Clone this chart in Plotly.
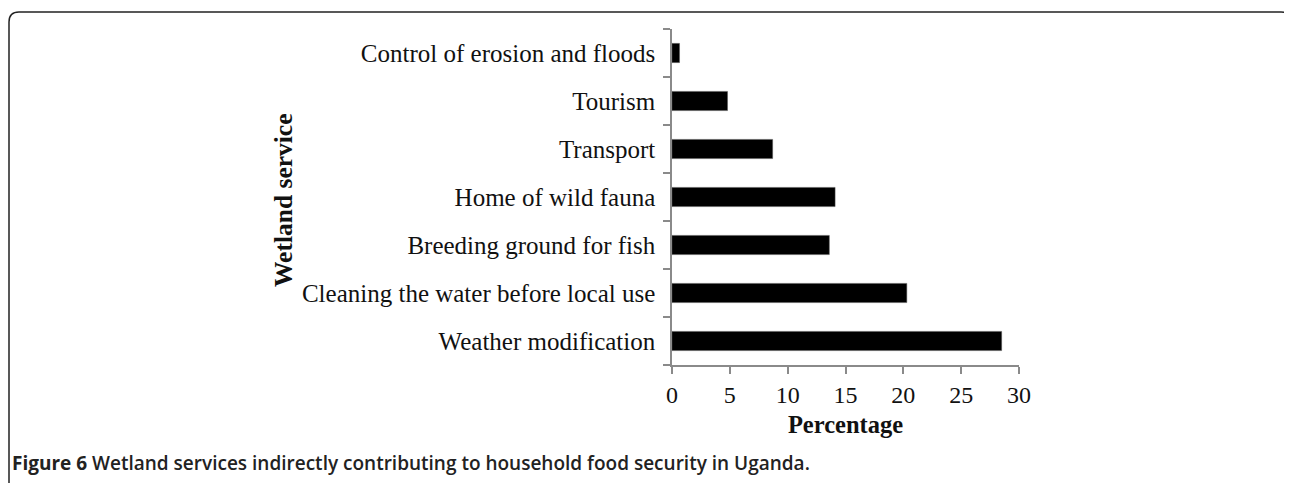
import plotly.graph_objects as go

categories = [
    "Weather modification",
    "Cleaning the water before local use",
    "Breeding ground for fish",
    "Home of wild fauna",
    "Transport",
    "Tourism",
    "Control of erosion and floods",
]
percentages = [28.5, 20.3, 13.6, 14.1, 8.7, 4.8, 0.65]
x_ticks = [0, 5, 10, 15, 20, 25, 30]

# page has an 8px body margin, so figure coords = page coords - 8
OFF = 8
W, H = 1292 - OFF, 483 - OFF
L, R, T, B = 672 - OFF, 1019 - OFF, 29 - OFF, 365 - OFF

fig = go.Figure()
fig.add_trace(go.Bar(
    x=percentages, y=categories, orientation="h",
    marker=dict(color="black", line=dict(color="#555", width=0.5)),
    width=0.4,
))

serif = "Liberation Serif, Times New Roman, serif"
fig.update_layout(
    width=W, height=H,
    margin=dict(l=L, r=W - R, t=T, b=H - B, pad=0),
    paper_bgcolor="white", plot_bgcolor="white",
    showlegend=False,
    font=dict(family=serif, color="#111", size=24),
    xaxis=dict(
        range=[0, 30], tickvals=x_ticks, ticktext=[str(v) for v in x_ticks],
        showgrid=False, zeroline=False,
        showline=True, linecolor="#8a8a8a", linewidth=1.5,
        ticks="outside", ticklen=7, tickcolor="#8a8a8a", tickwidth=1.5,
        tickfont=dict(family=serif, size=24, color="#111"),
        title=dict(text="<b>Percentage</b>", font=dict(family=serif, size=24.5, color="#111"), standoff=9),
    ),
    yaxis=dict(
        categoryorder="array", categoryarray=categories,
        showgrid=False, zeroline=False,
        showline=True, linecolor="#8a8a8a", linewidth=1.5,
        ticks="outside", ticklen=7, tickcolor="#8a8a8a", tickwidth=1.5,
        tickson="boundaries",
        ticklabelstandoff=10,
        tickfont=dict(family=serif, size=25, color="#111"),
    ),
)

def px(x):
    return (x - OFF - L) / (R - L)

def py(y):
    return (B - (y - OFF)) / (B - T)

# y-axis title as rotated annotation
fig.add_annotation(
    text="<b>Wetland service</b>", textangle=-90,
    xref="paper", yref="paper",
    x=px(283), y=py(200), xanchor="center", yanchor="middle",
    showarrow=False, font=dict(family=serif, size=25.5, color="#111"),
)

# caption
fig.add_annotation(
    text="<b>Figure 6</b> <span style='font-weight:600'>Wetland services indirectly contributing to household food security in Uganda.</span>",
    xref="paper", yref="paper",
    x=px(10), y=py(463),
    xanchor="left", yanchor="middle", showarrow=False,
    font=dict(family="Open Sans, sans-serif", size=19, color="#222"),
)

# rounded frame (top and left edges)
r = 10
x0, y0, x1, ybot = 9, 12, 1291, 483
path = (
    f"M {px(x0)},{py(ybot)} L {px(x0)},{py(y0 + r)} "
    f"Q {px(x0)},{py(y0)} {px(x0 + r)},{py(y0)} "
    f"L {px(x1 - r)},{py(y0)} Q {px(x1)},{py(y0)} {px(x1)},{py(y0 + r)}"
)
fig.add_shape(type="path", path=path, xref="paper", yref="paper",
              line=dict(color="#222", width=1.5))

fig.write_html("out.html")
